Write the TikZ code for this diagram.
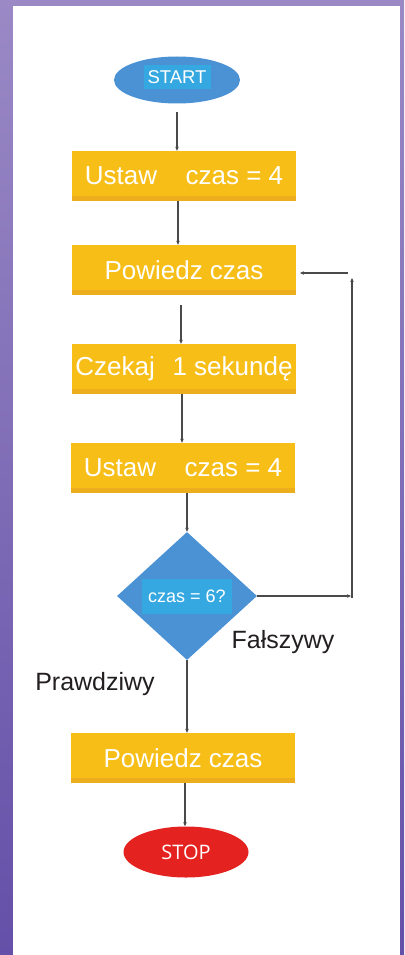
\documentclass[tikz,border=0pt]{standalone}
\usepackage{fontspec}
\setmainfont{Liberation Sans}
\newfontfamily\stopfont{Open Sans}
\usetikzlibrary{shapes.geometric,arrows.meta,calc}
\definecolor{bgtop}{HTML}{9A89C5}
\definecolor{bgbot}{HTML}{6450A8}
\definecolor{boxor}{HTML}{F7BE17}
\definecolor{boxorb}{HTML}{EDAE1E}
\definecolor{ellblue}{HTML}{4A92D4}
\definecolor{txtblue}{HTML}{35A8E1}
\definecolor{stopred}{HTML}{E4221F}
\definecolor{linegray}{HTML}{4A4A4A}
\definecolor{labtxt}{HTML}{231F20}
\tikzset{
  stepbox/.style={rectangle, fill=boxor, minimum width=224pt, minimum height=50pt, inner sep=0pt,
     text=white, font=\fontsize{26}{29}\selectfont,
     path picture={\fill[boxorb] ($(path picture bounding box.south west)+(0,-5)$) rectangle (path picture bounding box.south east);}},
  arr/.style={draw=linegray, line width=1.1pt, -{Stealth[length=4pt,width=3.5pt]}},
  lab/.style={text=labtxt, font=\fontsize{25}{28}\selectfont},
  tbox/.style={fill=txtblue, text=white, inner sep=0pt}
}
\begin{document}
\begin{tikzpicture}[x=1pt,y=-1pt]
\shade[top color=bgtop, bottom color=bgbot] (0,0) rectangle (404,955);
\fill[white] (13,6) rectangle (400,955);
\useasboundingbox (0,0) rectangle (404,955);

% START
\node[ellipse, fill=ellblue, minimum width=126pt, minimum height=47pt, inner sep=0pt] (start) at (177,80) {};
\node[tbox, minimum width=67pt, minimum height=24pt, font=\fontsize{18.5}{20}\selectfont] (starttxt) at (177,77) {START};

\node[stepbox] (b1) at (184,176) {Ustaw\hspace{1.1em}czas = 4};
\node[stepbox] (b2) at (184,270) {Powiedz czas};
\node[stepbox] (b3) at (184,369) {Czekaj\hspace{0.4em} 1 sekundę};
\node[stepbox] (b4) at (183,468) {Ustaw\hspace{1.1em}czas = 4};

% decision
\node[diamond, fill=ellblue, minimum width=140pt, minimum height=128pt, inner sep=0pt] (d) at (187,596) {};
\node[tbox, minimum width=90pt, minimum height=35pt, font=\fontsize{18}{20}\selectfont] (dtxt) at (187,596) {czas = 6?};

\node[stepbox] (b5) at (183,758) {Powiedz czas};

% STOP
\node[ellipse, fill=stopred, minimum width=125pt, minimum height=51pt, inner sep=0pt, text=white, font=\stopfont\fontsize{20}{22}\selectfont] (stop) at (186,852) {STOP};

% labels
\node[lab] (fal) at (283,642) {Fałszywy};
\node[lab] (pra) at (95,684) {Prawdziwy};

% connectors
\coordinate (s1) at (177,112);
\draw[arr] (s1) -- (s1 |- b1.north);
\draw[arr] ([xshift=-6pt]b1.south) -- ([xshift=-6pt]b2.north);
\coordinate (s3) at (181,305);
\draw[arr] (s3) -- (s3 |- b3.north);
\draw[arr] ([xshift=-2pt]b3.south) -- ([xshift=-2pt]b3.south |- b4.north);
\draw[arr] (d.north |- b4.south) -- (d.north);
\draw[arr] (d.south) -- (d.south |- b5.north);
\draw[arr] ([xshift=2pt]b5.south) -- ([xshift=2pt]b5.south |- stop.north);

% loop
\coordinate (c1) at (351,596);
\coordinate (c2) at (352,278);
\coordinate (c3) at (348,273);
\coordinate (c4) at (300,273);
\draw[arr] (d.east) -- (c1);
\draw[arr] (352,598) -- (c2);
\draw[arr] (c3) -- (c4);
\end{tikzpicture}
\end{document}
